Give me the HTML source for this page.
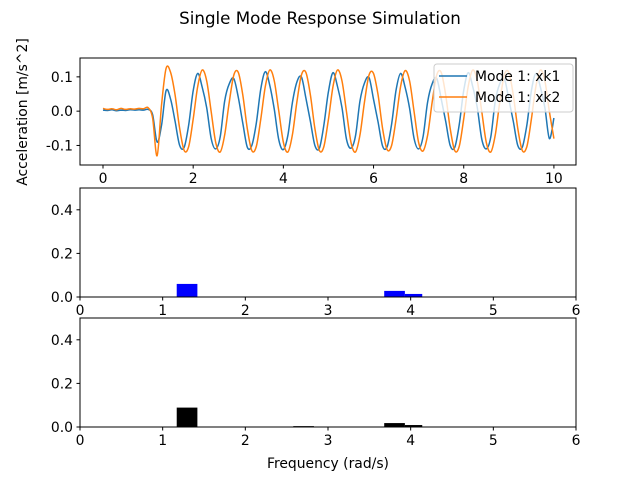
<!DOCTYPE html>
<html><head><meta charset="utf-8"><style>
body{margin:0;background:#fff}
svg text{font-family:"DejaVu Sans","Liberation Sans",sans-serif;fill:#000}
</style></head><body>
<svg id="fig" width="640" height="480" xmlns="http://www.w3.org/2000/svg">
<rect width="640" height="480" fill="#fff"/>
<text x="320" y="24" font-size="16.7" text-anchor="middle">Single Mode Response Simulation</text>
<text transform="translate(27,112) rotate(-90)" font-size="13.9" text-anchor="middle">Acceleration [m/s^2]</text>
<text x="328" y="468" font-size="13.9" text-anchor="middle">Frequency (rad/s)</text>
</svg>
<script>
const timeStep = 0.1;
const xk1 = [0.003,0.002,0.004,0.001,0.003,0.002,0.004,0.003,0.004,0.003,0.005,
-0.01,-0.09,-0.04,0.06,
0.035,-0.030,-0.100,-0.105,-0.040,0.060,0.110,0.070,0.010,-0.080,-0.110,-0.075,0.030,0.080,0.095,
0.040,-0.035,-0.105,-0.100,-0.035,0.065,0.115,0.075,0.005,-0.085,-0.112,-0.070,0.025,0.085,0.100,
0.038,-0.030,-0.100,-0.108,-0.040,0.058,0.112,0.072,0.010,-0.082,-0.108,-0.072,0.030,0.082,0.098,
0.035,-0.032,-0.102,-0.104,-0.038,0.062,0.110,0.070,0.008,-0.080,-0.110,-0.074,0.028,0.080,0.096,
0.036,-0.030,-0.100,-0.106,-0.040,0.060,0.112,0.072,0.010,-0.082,-0.110,-0.075,0.030,0.080,0.095,
0.035,-0.030,-0.100,-0.105,-0.040,0.060,0.110,0.070,0.010,-0.080,
-0.02];
const xk2 = [0.008,0.005,0.007,0.004,0.008,0.005,0.007,0.006,0.008,0.007,0.010,
-0.02,-0.13,0.02,0.125,
0.113,0.047,-0.051,-0.115,-0.103,-0.023,0.072,0.120,0.088,-0.002,-0.091,-0.119,-0.069,0.027,0.105,
0.113,0.047,-0.051,-0.115,-0.103,-0.023,0.072,0.120,0.088,-0.002,-0.091,-0.119,-0.069,0.027,0.105,
0.113,0.047,-0.051,-0.115,-0.103,-0.023,0.072,0.120,0.088,-0.002,-0.091,-0.119,-0.069,0.027,0.105,
0.110,0.047,-0.051,-0.112,-0.100,-0.023,0.072,0.118,0.088,-0.002,-0.091,-0.116,-0.069,0.027,0.105,
0.113,0.047,-0.051,-0.115,-0.103,-0.023,0.072,0.120,0.088,-0.002,-0.091,-0.119,-0.069,0.027,0.105,
0.113,0.047,-0.051,-0.115,-0.103,-0.023,0.072,0.120,0.088,-0.002,
-0.08];
const binStart1 = [1.17,3.68,3.93];
const binWidth1 = [0.25,0.25,0.21];
const binHeight1 = [0.06,0.028,0.014];
const binStart2 = [1.17,2.58,3.68,3.93];
const binWidth2 = [0.25,0.25,0.25,0.21];
const binHeight2 = [0.089,0.004,0.018,0.009];
const timeTicks = [0,2,4,6,8,10];
const accTicks = [-0.1,0.0,0.1];
const freqTicks = [0,1,2,3,4,5,6];
const ampTicks = [0.0,0.2,0.4];

const NS='http://www.w3.org/2000/svg';
const svg=document.getElementById('fig');
const FS=13.9;
function mk(tag,attrs,parent){const e=document.createElementNS(NS,tag);for(const k in attrs)e.setAttribute(k,attrs[k]);(parent||svg).appendChild(e);return e;}
function axis(L,R,T,B,x0,x1,y0,y1){return {L,R,T,B,sx:v=>L+(v-x0)/(x1-x0)*(R-L),sy:v=>B-(v-y0)/(y1-y0)*(B-T)};}
function frame(a,name){const r=mk('rect',{x:a.L,y:a.T,width:a.R-a.L,height:a.B-a.T,fill:'none',stroke:'#000','stroke-width':1});

}
function ticks(a,xt,yt,xfmt,yfmt,pre){
 xt.forEach(v=>{const x=a.sx(v);mk('line',{x1:x,x2:x,y1:a.B,y2:a.B+3.5,stroke:'#000'});
  const t=mk('text',{x:x,y:a.B+18,'font-size':FS,'text-anchor':'middle'});t.textContent=xfmt(v);
  
  });
 yt.forEach(v=>{const y=a.sy(v);mk('line',{x1:a.L-3.5,x2:a.L,y1:y,y2:y,stroke:'#000'});
  const t=mk('text',{x:a.L-7,y:y+5,'font-size':FS,'text-anchor':'end'});t.textContent=yfmt(v);
  
  });
}
const a1=axis(80,576,58,165,-0.51,10.49,-0.157,0.155);
function line(a,data,color,name){
 const P=data.map((v,i)=>[a.sx(i*timeStep),a.sy(v)]);
 let d='M'+P[0][0].toFixed(1)+','+P[0][1].toFixed(1);
 for(let i=0;i<P.length-1;i++){const p0=P[Math.max(0,i-1)],p1=P[i],p2=P[i+1],p3=P[Math.min(P.length-1,i+2)];
  const c1=[p1[0]+(p2[0]-p0[0])/6,p1[1]+(p2[1]-p0[1])/6],c2=[p2[0]-(p3[0]-p1[0])/6,p2[1]-(p3[1]-p1[1])/6];
  d+=' C'+c1[0].toFixed(1)+','+c1[1].toFixed(1)+' '+c2[0].toFixed(1)+','+c2[1].toFixed(1)+' '+p2[0].toFixed(1)+','+p2[1].toFixed(1);}
 const p=mk('path',{d:d,fill:'none',stroke:color,'stroke-width':1.5,'stroke-linejoin':'round'});
 
 }
line(a1,xk1,'#1f77b4','series-xk1');
line(a1,xk2,'#ff7f0e','series-xk2');
frame(a1,'time-axes');
ticks(a1,timeTicks,accTicks,v=>String(v),v=>v.toFixed(1),'time');
const lg=mk('g',{});


mk('rect',{x:434,y:64,width:139,height:48,rx:3,fill:'#fff','fill-opacity':0.8,stroke:'#ccc'},lg);
mk('line',{x1:439,x2:467,y1:76,y2:76,stroke:'#1f77b4','stroke-width':1.5},lg);
mk('line',{x1:439,x2:467,y1:97,y2:97,stroke:'#ff7f0e','stroke-width':1.5},lg);
const l1=mk('text',{x:475,y:81,'font-size':FS},lg);l1.textContent='Mode 1: xk1';


const l2=mk('text',{x:475,y:102,'font-size':FS},lg);l2.textContent='Mode 1: xk2';



function bars(a,st,w,h,color,pre){st.forEach((s,i)=>{const x0=a.sx(s),x1=a.sx(s+w[i]),y=a.sy(h[i]);
 const r=mk('rect',{x:x0,y:y,width:x1-x0,height:a.B-y,fill:color});
 
 });}
const a2=axis(80,576,188,297,0,6,0,0.5);
bars(a2,binStart1,binWidth1,binHeight1,'#0000ff','spectrum-xk1');
frame(a2,'spectrum-xk1-axes');
ticks(a2,freqTicks,ampTicks,v=>String(v),v=>v.toFixed(1),'spectrum-xk1');
const a3=axis(80,576,318,427,0,6,0,0.5);
bars(a3,binStart2,binWidth2,binHeight2,'#000000','spectrum-xk2');
frame(a3,'spectrum-xk2-axes');
ticks(a3,freqTicks,ampTicks,v=>String(v),v=>v.toFixed(1),'spectrum-xk2');
</script>
</body></html>
